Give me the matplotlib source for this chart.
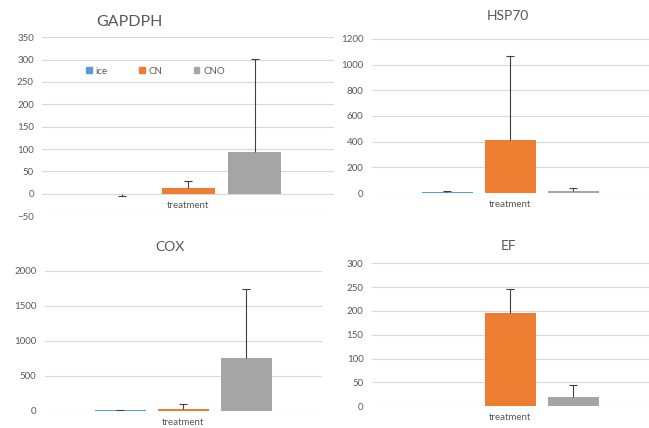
import matplotlib.pyplot as plt
import numpy as np

plt.rcParams['font.family'] = ['Lato', 'DejaVu Sans']

# Datos
groups = ['ice', 'CN', 'CNO']
colors = ['#5B9BD5', '#ED7D31', '#A5A5A5']

gapdph_mean = [-0.5, 12, 93]
gapdph_err = [3.5, 17, 208]

hsp70_mean = [10, 413, 12]
hsp70_err = [2, 652, 27]

cox_mean = [10, 34, 755]
cox_err = [5, 60, 990]

ef_mean = [0, 195, 19]
ef_err = [0, 51, 26]

# (titulo, medias, errores, limites y, paso, posicion de ejes, posicion del titulo, tamaño)
panels = [
    ('GAPDPH', gapdph_mean, gapdph_err, (-50, 350), 50,
     [0.065, 0.495, 0.450, 0.418], (0.200, 0.948), 11.5),
    ('HSP70', hsp70_mean, hsp70_err, (0, 1200), 200,
     [0.573, 0.549, 0.427, 0.360], (0.783, 0.962), 10),
    ('COX', cox_mean, cox_err, (0, 2000), 500,
     [0.069, 0.040, 0.427, 0.327], (0.262, 0.423), 10),
    ('EF', ef_mean, ef_err, (0, 300), 50,
     [0.573, 0.051, 0.427, 0.334], (0.783, 0.425), 10),
]

fig = plt.figure(figsize=(6.49, 4.28), dpi=100)

x = np.array([-1, 0, 1])
for i, (title, mean, err, ylim, step, pos, tpos, tsize) in enumerate(panels):
    ax = fig.add_axes(pos)
    ax.bar(x, mean, width=0.8, color=colors, zorder=2)
    for xi, m, e in zip(x, mean, err):
        if e == 0:
            continue
        # la barra de error va hacia afuera del cero, con tope solo en el extremo
        if m < 0:
            yerr = [[e], [0]]
        else:
            yerr = [[0], [e]]
        _, caps, _ = ax.errorbar(xi, m, yerr=yerr, fmt='none', ecolor='#404040',
                                 elinewidth=0.8, capsize=3, capthick=0.8, zorder=3)
        if m < 0:
            caps[1].set_visible(False)
        else:
            caps[0].set_visible(False)
    ax.set_xlim(-2.2, 2.2)
    ax.set_ylim(*ylim)
    ax.set_yticks(np.arange(ylim[0], ylim[1] + 1, step))
    ax.set_xticks([])
    ax.grid(axis='y', color='#D9D9D9', linewidth=0.8, zorder=0)
    for s in ax.spines.values():
        s.set_visible(False)
    ax.tick_params(axis='y', length=0, pad=6, labelsize=7, labelcolor='#595959')
    ax.annotate('treatment', xy=(0, 0), xytext=(0, -5), textcoords='offset points',
                ha='center', va='top', fontsize=7, color='#595959')
    fig.text(tpos[0], tpos[1], title, ha='center', va='center',
             fontsize=tsize, color='#595959')
    if i == 0:
        handles = [plt.Rectangle((0, 0), 1, 1, color=c) for c in colors]
        ax.legend(handles, groups, ncol=3, loc='center left',
                  bbox_to_anchor=(0.12, 0.81), frameon=False, fontsize=7,
                  handlelength=0.6, handleheight=0.6, handletextpad=0.4,
                  columnspacing=3.2, labelcolor='#595959')

fig.savefig('out.png', dpi=100)
